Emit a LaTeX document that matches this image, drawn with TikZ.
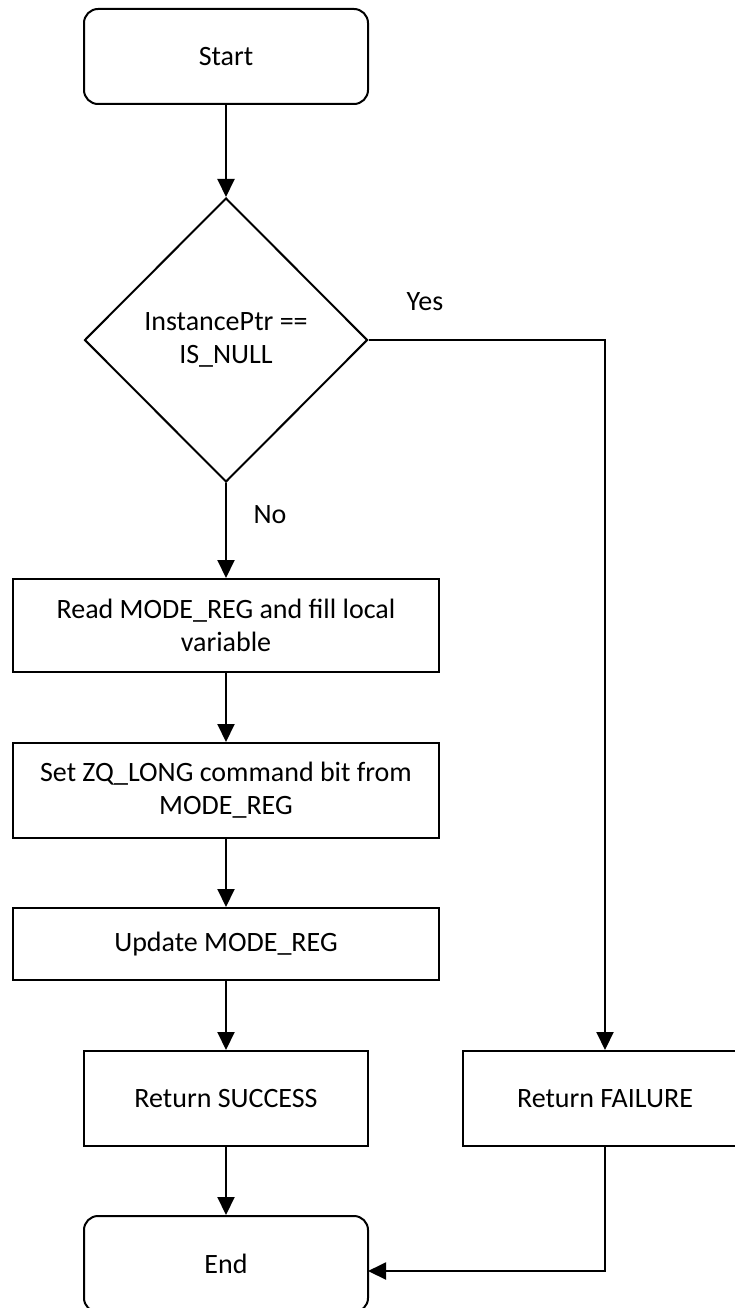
\documentclass[tikz,border=0pt]{standalone}
\usepackage{fontspec}
\setmainfont{Carlito}
\usetikzlibrary{shapes.geometric,arrows.meta}
\begin{document}
\begin{tikzpicture}[x=1pt,y=-1pt,
  every node/.style={font=\fontsize{28}{33}\selectfont},
  term/.style={draw,line width=2pt,rounded corners=14pt,minimum width=284pt,minimum height=95pt,inner sep=0pt,align=center},
  proc/.style={draw,line width=2pt,minimum width=426pt,inner sep=0pt,align=center},
  ret/.style={draw,line width=2pt,minimum width=284pt,minimum height=95pt,inner sep=0pt,align=center},
  dec/.style={draw,diamond,line width=2pt,minimum width=283pt,minimum height=284pt,inner sep=0pt,align=center},
  conn/.style={line width=2pt,-{Triangle[length=18pt,width=17pt]}},
  lbl/.style={inner sep=0pt}
]
\useasboundingbox (0,0) rectangle (735,1308);
\node[term] (start) at (226,56.5) {Start};
\node[dec] (cond) at (226,340) {InstancePtr ==\\IS\_NULL};
\node[proc,minimum height=93pt] (read) at (226,625.5) {Read MODE\_REG and fill local\\variable};
\node[proc,minimum height=95pt] (set) at (226,790.5) {Set ZQ\_LONG command bit from\\MODE\_REG};
\node[proc,minimum height=72pt] (upd) at (226,944) {Update MODE\_REG};
\node[ret] (succ) at (226,1098.5) {Return SUCCESS};
\node[ret] (fail) at (605,1098.5) {Return FAILURE};
\node[term,minimum height=96pt] (end) at (226,1264) {End};
\node[lbl] (yes) at (425,302) {Yes};
\node[lbl] (no) at (270,515) {No};
\coordinate (endin) at (368,1271);
\draw[conn] (start.south) -- (cond.north);
\draw[conn] (cond.south) -- (read.north);
\draw[conn] (cond.east) -| (fail.north);
\draw[conn] (read.south) -- (set.north);
\draw[conn] (set.south) -- (upd.north);
\draw[conn] (upd.south) -- (succ.north);
\draw[conn] (succ.south) -- (end.north);
\draw[conn] (fail.south) |- (endin);
\end{tikzpicture}
\end{document}
